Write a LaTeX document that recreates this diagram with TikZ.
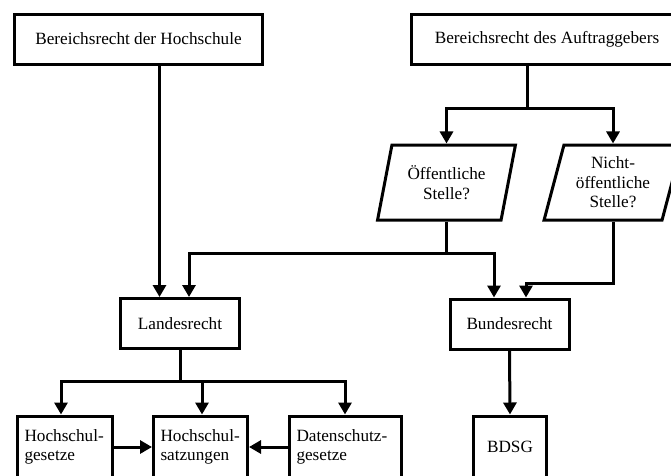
\documentclass[tikz,border=0pt]{standalone}
\usepackage{fontspec}
\setmainfont{Liberation Serif}
\usetikzlibrary{arrows.meta,shapes.geometric}
\begin{document}
\begin{tikzpicture}[x=1pt,y=-1pt,
  every node/.style={font=\fontsize{17.2}{19.5}\selectfont},
  box/.style={draw, line width=3pt, rectangle, inner sep=0pt, align=center},
  para/.style={draw, line width=3pt, trapezium, trapezium left angle=74, trapezium right angle=106, trapezium stretches=true, minimum width=138, minimum height=75, inner sep=2pt, align=center},
  leaf/.style={draw, line width=3pt, rectangle, inner xsep=7pt, inner ysep=0pt, align=left, minimum height=62},
  conn/.style={line width=3pt},
  arr/.style={conn, -{Triangle[length=12pt,width=13pt]}}
]
\useasboundingbox (0,0) rectangle (671,475);
\clip (0,0) rectangle (671,475);

\node[box, minimum width=248, minimum height=50] (hs) at (138.5,39) {Bereichsrecht der Hochschule};
\node[box, minimum width=272, minimum height=50] (ag) at (547,39) {Bereichsrecht des Auftraggebers};
\node[para] (p1) at (446.5,182.5) {Öffentliche\\Stelle?};
\node[para] (p2) at (613,182.5) {Nicht-\\öffentliche\\Stelle?};
\node[box, minimum width=119, minimum height=50] (lr) at (180,323.5) {Landesrecht};
\node[box, minimum width=119, minimum height=50] (br) at (509.5,324) {Bundesrecht};
\node[leaf, text width=81] (b1) at (65,447) {Hochschul-\\gesetze};
\node[leaf, text width=80] (b2) at (200.5,447) {Hochschul-\\satzungen};
\node[leaf, text width=98] (b3) at (345.5,447) {Datenschutz-\\gesetze};
\node[box, minimum width=73, minimum height=62] (bd) at (510,447) {BDSG};

\coordinate (cL1) at (159.5,0);
\coordinate (cL2) at (189,0);
\coordinate (cA) at (527,0);
\coordinate (cB1) at (494,0);
\coordinate (cB2) at (526,0);
\coordinate (cH1) at (61,0);
\coordinate (cH2) at (202,0);
\coordinate (cH3) at (345,0);
\coordinate (j1) at (0,108);
\coordinate (j2) at (0,253);
\coordinate (j3) at (0,283);
\coordinate (j4) at (0,381);

\draw[arr] (hs.south -| cL1) -- (lr.north -| cL1);
\draw[conn] (ag.south -| cA) -- (cA |- j1);
\draw[arr] (cA |- j1) -| (p1.north);
\draw[arr] (cA |- j1) -| (p2.north);
\draw[conn] (p1.south) -- (p1.south |- j2);
\draw[arr] (p1.south |- j2) -| (lr.north -| cL2);
\draw[arr] (p1.south |- j2) -| (br.north -| cB1);
\draw[arr] (p2.south) -- (p2.south |- j3) -| (br.north -| cB2);
\draw[conn] (lr.south) -- (lr.south |- j4);
\draw[arr] (lr.south |- j4) -| (b1.north -| cH1);
\draw[arr] (lr.south |- j4) -| (b2.north -| cH2);
\draw[arr] (lr.south |- j4) -| (b3.north -| cH3);
\draw[arr] (br.south) -- (bd.north);
\draw[arr] (b1.east) -- (b2.west);
\draw[arr] (b3.west) -- (b2.east);
\end{tikzpicture}
\end{document}
